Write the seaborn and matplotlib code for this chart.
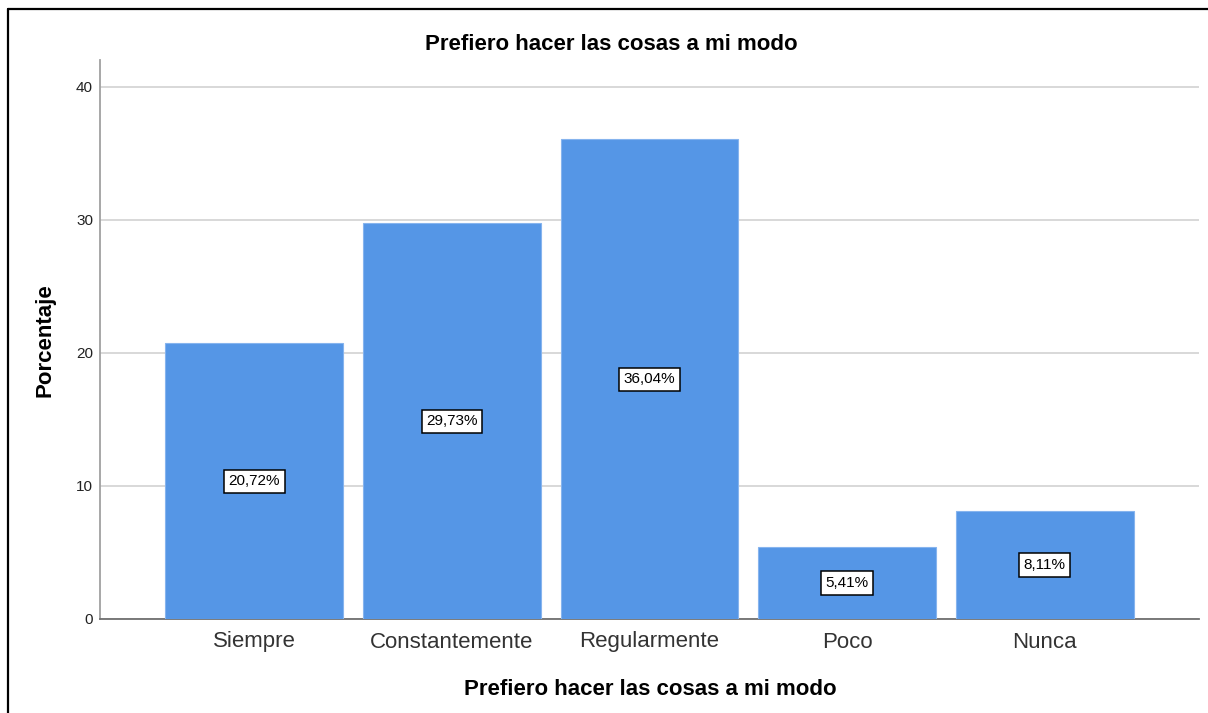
import matplotlib
matplotlib.use("Agg")
import matplotlib.pyplot as plt
from matplotlib.lines import Line2D
import pandas as pd
import seaborn as sns

sns.set_theme(style="white")
plt.rcParams["font.family"] = ["Liberation Sans", "DejaVu Sans"]

BAR_BLUE = "#5596E6"

# ------------------------------------------------------------------
# data
# ------------------------------------------------------------------
categories = ["Siempre", "Constantemente", "Regularmente", "Poco", "Nunca"]
percentages = [20.72, 29.73, 36.04, 5.41, 8.11]
y_ticks = [0, 10, 20, 30, 40]

title = "Prefiero hacer las cosas a mi modo"

df = pd.DataFrame({"respuesta": categories, "porcentaje": percentages})

W, H = 1208, 713
fig = plt.figure(figsize=(W / 100, H / 100), dpi=100)
ax = fig.add_axes([100 / W, 94 / H, 1099 / W, 559 / H])

sns.barplot(data=df, x="respuesta", y="porcentaje", color=BAR_BLUE, saturation=1,
            width=0.9, edgecolor="#86b4ee", linewidth=0.8, ax=ax, zorder=3)

# value boxes in the middle of each bar
for i, v in enumerate(df["porcentaje"]):
    ax.text(i, v / 2, f"{v:.2f}".replace(".", ",") + "%", ha="center", va="center",
            fontsize=11, color="black", zorder=5,
            bbox=dict(boxstyle="square,pad=0.3", fc="white", ec="black", lw=1.1))

ax.set_xlim(-0.78, 4.78)
ax.set_ylim(0, 42)
ax.set_yticks(y_ticks)
ax.yaxis.grid(True, color="#d6d6d6", linewidth=1.3, zorder=0)
ax.set_axisbelow(True)

for side in ["top", "right"]:
    ax.spines[side].set_visible(False)
ax.spines["left"].set_color("#a0a0a0")
ax.spines["left"].set_linewidth(1.3)
ax.spines["bottom"].set_color("#707070")
ax.spines["bottom"].set_linewidth(1.3)

ax.tick_params(axis="x", length=0, pad=9, labelsize=16, labelcolor="#333333")
ax.tick_params(axis="y", length=0, pad=5, labelsize=11, labelcolor="#222222")
ax.set_xlabel("")
ax.set_ylabel("")

fig.text(611 / W, 1 - 50 / H, title, ha="center", va="baseline",
         fontsize=16, fontweight="bold", color="black")
fig.text(650 / W, 1 - 695 / H, title, ha="center", va="baseline",
         fontsize=16, fontweight="bold", color="black")
fig.text(45 / W, 1 - 340 / H, "Porcentaje", ha="center", va="center", rotation=90,
         fontsize=16, fontweight="bold", color="black")

# frame of the SPSS output viewer (top and left edges only are visible)
fig.add_artist(Line2D([8 / W, 1], [1 - 9 / H, 1 - 9 / H], color="black", lw=1.6,
                      transform=fig.transFigure))
fig.add_artist(Line2D([8 / W, 8 / W], [0, 1 - 9 / H], color="black", lw=1.6,
                      transform=fig.transFigure))

fig.savefig("out.png", dpi=100, facecolor="white")
